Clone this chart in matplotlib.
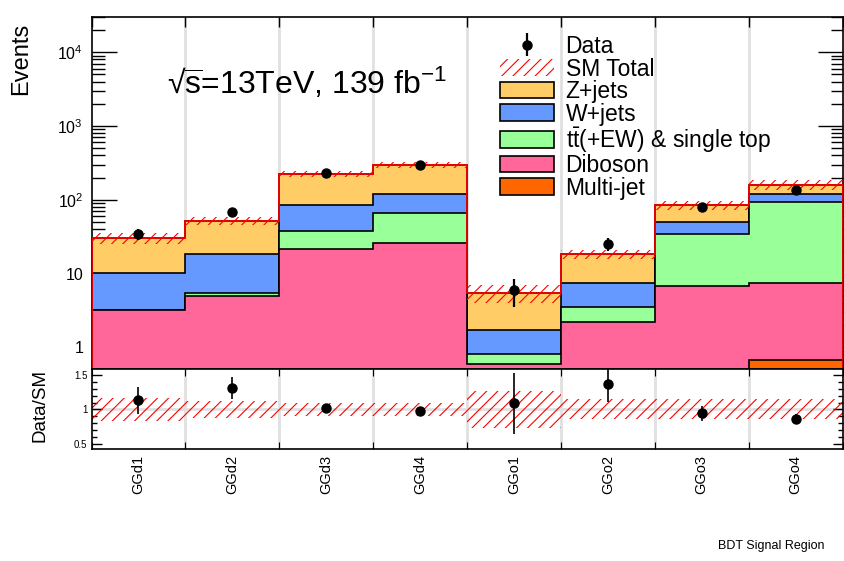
import matplotlib
matplotlib.use('Agg')
import matplotlib.pyplot as plt
import numpy as np
from matplotlib.ticker import LogLocator, MultipleLocator, NullFormatter

plt.rcParams['font.family'] = ['Liberation Sans', 'DejaVu Sans']
plt.rcParams['mathtext.fontset'] = 'custom'
plt.rcParams['mathtext.rm'] = 'Liberation Sans'
plt.rcParams['mathtext.it'] = 'Liberation Sans:italic'
plt.rcParams['mathtext.bf'] = 'Liberation Sans:bold'
plt.rcParams['hatch.linewidth'] = 0.8

# ---------------- data ----------------
regions = ['GGd1', 'GGd2', 'GGd3', 'GGd4', 'GGo1', 'GGo2', 'GGo3', 'GGo4']
data = np.array([34, 68, 227, 292, 6, 25, 80, 137], dtype=float)
data_err = np.array([5.8, 8.2, 15.1, 17.1, 2.45, 5.0, 8.9, 11.7])
multijet = np.array([0, 0, 0, 0, 0, 0, 0, 0.67])
diboson = np.array([3.2, 4.96, 21.5, 26.1, 0.60, 2.18, 6.7, 6.76])
ttbar = np.array([0.04, 0.54, 15.8, 39.3, 0.22, 1.34, 28.0, 84.8])
wjets = np.array([7.06, 13.0, 46.7, 52.6, 0.89, 3.85, 14.7, 27.3])
zjets = np.array([19.7, 33.4, 139, 180, 3.79, 10.8, 35.4, 40.5])
rel_unc = np.array([0.17, 0.12, 0.09, 0.09, 0.27, 0.145, 0.145, 0.145])

labels_bkg = ['Multi-jet', 'Diboson', r't$\mathrm{\bar{t}}$(+EW) & single top', 'W+jets', 'Z+jets']
colors_bkg = ['#FF6600', '#FF6699', '#99FF99', '#6699FF', '#FFCC66']
values_bkg = [multijet, diboson, ttbar, wjets, zjets]

# ---------------- layout ----------------
W, H = 844, 561
fig = plt.figure(figsize=(W / 100, H / 100), dpi=100)


def fx(x):
    return x / W


def fy(y):
    return 1 - y / H


left, right = 91.5, 842.5
top, mid, bot = 17, 368.5, 449.3
ax = fig.add_axes([fx(left), fy(mid), (right - left) / W, (mid - top) / H])
axr = fig.add_axes([fx(left), fy(bot), (right - left) / W, (bot - mid) / H])

edges = np.arange(len(regions) + 1)
centers = edges[:-1] + 0.5
grid_col = '#e0e0e0'

# ---------------- upper panel ----------------
cum = np.cumsum(np.array(values_bkg), axis=0)
total = cum[-1]
floor = 1e-3
handles = {}
for i in reversed(range(len(values_bkg))):
    h = ax.stairs(np.maximum(cum[i], floor), edges, baseline=floor, fill=True,
                  facecolor=colors_bkg[i], edgecolor='black', linewidth=1.2, zorder=2)
    handles[i] = h

ax.stairs(total, edges, color='red', linewidth=1.2, zorder=3)
band = ax.stairs(total * (1 + rel_unc), edges, baseline=total * (1 - rel_unc), fill=True,
                 facecolor='none', edgecolor='red', hatch='///', linewidth=0, zorder=3)
eb = ax.errorbar(centers, data, yerr=data_err, fmt='o', color='black', ms=6.5,
                 elinewidth=1.6, capsize=0, zorder=5)

for e in edges[1:-1]:
    ax.axvline(e, color=grid_col, lw=2, zorder=0)
    axr.axvline(e, color=grid_col, lw=2, zorder=0)

ax.set_yscale('log')
ax.set_ylim(0.516, 3.0e4)
ax.set_xlim(edges[0], edges[-1])
ax.set_yticks([1, 10, 100, 1000, 10000], ['1', '10', r'$10^{2}$', r'$10^{3}$', r'$10^{4}$'])
ax.yaxis.set_minor_locator(LogLocator(base=10, subs=np.arange(2, 10) * 1.0, numticks=20))
ax.yaxis.set_minor_formatter(NullFormatter())
ax.tick_params(axis='y', which='major', direction='in', length=18, width=1, left=True,
               right=True, labelsize=11.5, pad=6)
ax.tick_params(axis='y', which='minor', direction='in', length=9, width=1, left=True, right=True)
ax.set_xticks(edges)
ax.tick_params(axis='x', which='major', direction='in', length=7, width=1, top=True,
               bottom=True, labelbottom=False)
for s in ax.spines.values():
    s.set_linewidth(1.2)

# ---------------- ratio panel ----------------
axr.stairs(1 + rel_unc, edges, baseline=1 - rel_unc, fill=True, facecolor='none',
           edgecolor='red', hatch='///', linewidth=0, zorder=2)
axr.axhline(1, color=grid_col, lw=2, zorder=0)
axr.errorbar(centers, data / total, yerr=data_err / total, fmt='o', color='black', ms=6.5,
             elinewidth=1.2, capsize=0, zorder=5)
axr.set_xlim(edges[0], edges[-1])
axr.set_ylim(0.42, 1.595)
axr.set_xticks(edges)
axr.set_xticks(centers, regions, minor=True)
axr.tick_params(axis='x', which='major', direction='in', length=5, top=True, labelbottom=False)
axr.tick_params(axis='x', which='minor', length=0, labelsize=10.5, labelrotation=90, pad=4)
axr.set_yticks([0.5, 1, 1.5], ['0.5', '1', '1.5'])
axr.yaxis.set_minor_locator(MultipleLocator(0.1))
axr.tick_params(axis='y', which='major', direction='in', length=7, width=1, left=True,
                right=True, labelsize=7, pad=3)
axr.tick_params(axis='y', which='minor', direction='in', length=3.5, width=1, left=True, right=True)
for s in axr.spines.values():
    s.set_linewidth(1.2)

# ---------------- texts ----------------
fig.text(fx(21), fy(23), 'Events', rotation=90, ha='center', va='top', fontsize=17)
fig.text(fx(40), fy(405), 'Data/SM', rotation=90, ha='center', va='center', fontsize=13.5)
fig.text(fx(167), fy(94), r'√$\overline{\mathrm{s}}$=13TeV, 139 fb$^{\mathrm{-1}}$', fontsize=23,
         ha='left', va='baseline')
fig.text(fx(718), fy(546), 'BDT Signal Region', fontsize=9, ha='left', va='center')

leg_handles = [eb, band, handles[4], handles[3], handles[2], handles[1], handles[0]]
leg_labels = ['Data', 'SM Total', labels_bkg[4], labels_bkg[3], labels_bkg[2], labels_bkg[1],
              labels_bkg[0]]
fig.legend(leg_handles, leg_labels, loc='upper left', bbox_to_anchor=(fx(500), fy(35)),
           frameon=False, fontsize=16.5, handlelength=2.36, handleheight=0.74,
           handletextpad=0.5, labelspacing=-0.02, borderpad=0, borderaxespad=0)

fig.savefig('out.png', dpi=100)
